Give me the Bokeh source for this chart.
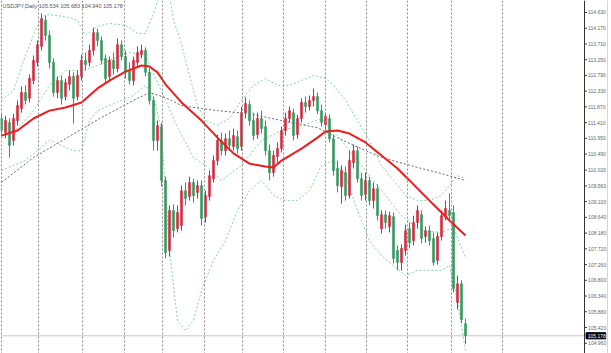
from bokeh.plotting import figure
from bokeh.models import ColumnDataSource, Span, Label, Range1d
from bokeh.core.properties import value
from bokeh.embed import file_html
from bokeh.resources import INLINE

# ---- USDJPY daily candles ----
opens = [111.53,111.12,111.41,110.89,111.47,111.82,112.29,112.12,112.64,113.17,
         113.64,114.40,113.96,113.17,112.29,112.64,112.17,112.53,112.76,112.17,
         112.76,113.23,113.17,113.52,114.04,113.81,113.29,112.76,113.23,112.99,
         113.69,113.34,112.93,112.64,113.17,113.40,113.52,112.88,112.06,110.89,
         111.29,109.72,107.67,108.84,108.31,108.40,109.42,109.25,109.66,109.37,
         109.57,108.66,109.25,109.77,110.30,110.89,110.59,110.94,110.71,111.00,
         110.71,111.70,111.94,111.47,111.06,111.53,111.29,110.59,109.95,110.42,
         110.65,111.18,111.53,111.70,111.06,111.53,112.00,111.88,112.06,112.17,
         111.76,111.35,111.53,110.94,110.07,109.54,109.95,109.28,110.24,110.59,
         109.77,109.31,109.72,109.13,109.48,108.31,108.72,108.37,108.66,107.67,
         107.32,107.67,108.31,107.96,108.49,108.72,108.08,108.25,108.02,107.38,
         108.08,108.66,108.84,108.78,106.15,106.70,105.53]
highs = [111.67,111.61,111.53,111.67,112.06,112.47,112.50,112.82,113.37,113.81,
         114.60,114.54,114.10,113.29,112.76,112.79,112.70,112.93,112.88,112.93,
         113.40,113.46,113.69,114.19,114.16,113.93,113.40,113.34,113.46,113.87,
         113.81,113.52,113.17,113.34,113.64,113.69,113.61,113.00,112.17,111.47,
         111.41,109.83,108.99,109.02,108.99,109.57,109.66,109.83,109.77,109.72,
         109.72,109.42,110.01,110.45,111.06,111.12,111.09,111.18,111.23,111.18,
         111.88,112.15,112.06,111.70,111.70,111.76,111.47,110.77,110.59,110.83,
         111.29,111.70,111.88,111.82,111.64,112.12,112.17,112.20,112.41,112.29,
         111.94,111.70,111.65,111.06,110.30,110.16,110.13,110.59,110.77,110.71,
         109.95,109.95,109.83,109.66,109.60,108.84,108.84,108.81,108.78,107.82,
         107.85,108.43,108.49,108.69,108.99,108.84,108.37,108.40,108.20,108.20,
         108.84,109.13,109.34,108.99,106.94,106.80,105.68]
lows = [111.03,110.95,110.39,110.74,111.32,111.70,111.94,112.00,112.53,113.05,
        113.52,113.81,112.99,112.17,112.12,111.94,112.06,112.35,111.38,112.06,
        112.64,112.93,113.05,113.37,113.64,113.11,112.58,112.64,112.82,112.88,
        113.23,112.70,112.53,112.50,113.05,113.29,112.76,111.94,110.59,110.59,
        109.54,107.44,107.50,108.05,108.20,108.25,108.99,109.13,109.07,109.19,
        108.40,108.49,109.13,109.66,110.16,110.45,110.45,110.59,110.59,110.51,
        110.59,111.53,111.32,110.89,110.94,111.09,110.45,109.72,109.83,110.24,
        110.54,111.03,111.41,110.89,110.94,111.41,111.70,111.76,111.88,111.65,
        111.29,111.18,110.83,109.86,109.37,109.04,109.13,109.19,110.07,109.66,
        109.13,109.13,108.99,108.90,108.55,108.17,108.31,108.20,107.29,107.09,
        107.09,107.52,107.73,107.82,108.31,107.88,107.90,107.82,107.23,107.26,
        107.96,108.55,108.55,106.44,105.95,105.55,104.94]
closes = [111.18,111.47,110.74,111.53,111.91,112.29,112.06,112.70,113.23,113.69,
          114.45,113.96,113.17,112.29,112.64,112.12,112.58,112.76,112.12,112.79,
          113.23,113.11,113.52,114.04,113.81,113.23,112.70,113.23,112.99,113.69,
          113.34,112.88,112.64,113.23,113.46,113.52,112.88,112.06,110.89,111.32,
          109.72,107.61,108.84,108.25,108.78,109.42,109.19,109.66,109.28,109.57,
          108.61,109.28,109.86,110.30,110.89,110.59,110.94,110.74,111.03,110.65,
          111.70,111.97,111.47,111.03,111.53,111.24,110.59,109.95,110.45,110.65,
          111.18,111.53,111.76,111.03,111.53,112.00,111.88,112.06,112.17,111.76,
          111.41,111.59,110.94,110.01,109.57,110.01,109.28,110.30,110.59,109.77,
          109.28,109.72,109.13,109.48,108.69,108.72,108.49,108.69,107.44,107.32,
          107.73,108.25,107.90,108.49,108.84,108.02,108.25,107.96,107.32,108.08,
          108.69,108.90,108.69,106.56,106.70,105.65,105.18]

# ---- indicators (sampled at bar indices) ----
ma_fast_bar = [0,4,8,12,16,20,24,27,31,35,37,39,41,45,50,54,58,62,66,68,70,75,79,81,84,87,91,95,99,102,107,110,112,116]
ma_fast_val = [111.03,111.18,111.53,111.76,111.85,112.00,112.41,112.64,112.90,113.08,113.05,112.88,112.53,112.00,111.47,110.97,110.51,110.21,110.13,110.10,110.30,110.65,110.97,111.15,111.18,111.09,110.83,110.45,110.07,109.72,109.13,108.78,108.55,108.11]

ma_slow_bar = [0,8,16,25,33,37,41,45,50,54,62,70,79,84,87,95,104,110,116]
ma_slow_val = [109.66,110.39,110.94,111.56,112.06,112.29,112.14,111.91,111.82,111.76,111.67,111.47,111.26,110.97,110.80,110.39,110.10,109.92,109.72]

bb_up_bar = [0,3,6,9,11,14,17,19,21,24,27,31,34,36,38,40,42,43,45,47,49,51,54,57,60,63,66,69,72,75,78,81,83,86,89,92,95,98,101,104,107,110,112,114,116]
bb_up_val = [112.06,112.35,113.37,114.25,114.57,114.54,114.48,114.40,113.96,114.22,114.31,114.25,114.02,114.02,114.60,115.27,115.13,114.40,113.72,112.79,111.91,111.47,111.33,111.53,112.06,112.50,112.70,112.50,112.50,112.64,112.79,112.70,112.50,112.06,111.47,110.89,110.16,109.72,109.28,109.13,109.13,109.28,109.57,109.86,109.78]

bb_mid_bar = [0,4,8,12,16,20,24,28,32,36,38,41,44,48,51,55,60,65,70,75,80,85,90,95,100,105,110,113,116]
bb_mid_val = [111.03,111.24,111.76,112.50,112.93,112.93,113.08,113.28,113.46,113.37,112.85,112.06,111.27,110.39,110.16,109.72,110.16,110.89,111.18,111.32,111.53,110.89,110.16,109.42,108.69,108.25,108.20,108.34,107.46]

bb_lo_bar = [0,3,6,9,12,15,18,20,22,24,27,30,33,36,38,40,42,44,46,48,50,53,56,59,62,65,68,71,74,77,80,83,86,89,92,95,98,101,104,107,110,112,114,116]
bb_lo_val = [110.01,110.16,110.30,110.59,110.89,110.74,110.59,110.59,111.47,111.76,111.91,112.06,112.20,112.50,112.20,111.18,107.67,105.62,105.33,105.62,106.50,107.38,107.96,108.84,109.42,109.72,109.28,109.13,109.13,109.42,110.16,110.30,109.86,108.84,107.96,107.52,107.23,106.94,107.09,107.09,107.09,107.23,106.21,104.75]

price_ticks = [114.63,114.17,113.71,113.25,112.79,112.33,111.87,111.41,110.95,110.49,110.02,
               109.56,109.10,108.64,108.18,107.72,107.26,106.80,106.34,105.88,105.42,104.96]
separator_bars = [0, 9.25, 20.25, 30.75, 40.25, 50.75, 60.25, 70.5, 81, 91.25, 101.5, 112.5, 125.25]
last_price = 105.178
header = "USDJPY,Daily  105.534 105.683 104.940 105.178"

# price scale sits to the right of the candle area (MetaTrader style)
Y0, Y1 = 104.66, 114.98
X0, X1 = -0.25, 152.5
AXIS_X = 145.75

p = figure(frame_width=611, frame_height=353, x_range=Range1d(X0, X1),
           y_range=Range1d(Y0, Y1), output_backend="svg", toolbar_location=None,
           min_border=0, y_axis_location=None, x_axis_location=None)
p.outline_line_color = None
p.xgrid.visible = False
p.ygrid.visible = False
p.background_fill_color = "white"
p.border_fill_color = "white"

for b in separator_bars:
    p.add_layout(Span(location=b, dimension="height", line_color="#8a8a8a",
                      line_dash="2 2", line_width=1))

# bid line
p.segment(x0=[X0], y0=[last_price], x1=[AXIS_X + 0.5], y1=[last_price],
          line_color="#c8c8c8", line_width=1)

# bollinger bands
for bars, vals in ((bb_up_bar, bb_up_val), (bb_mid_bar, bb_mid_val), (bb_lo_bar, bb_lo_val)):
    p.line(bars, vals, line_color="#86d3a4", line_width=1, line_dash="2 2")

p.line(ma_slow_bar, ma_slow_val, line_color="#6a6a6a", line_width=1, line_dash="2 2")

idx = list(range(len(opens)))
bull = [i for i in idx if closes[i] >= opens[i]]
bear = [i for i in idx if closes[i] < opens[i]]
red = "#d22a3e"
green = "#33995f"

def src(ids):
    return ColumnDataSource(dict(x=ids, o=[opens[i] for i in ids], c=[closes[i] for i in ids],
                                 h=[highs[i] for i in ids], l=[lows[i] for i in ids]))

sb, sr = src(bull), src(bear)
p.segment("x", "h", "x", "l", source=sb, line_color=red, line_width=1)
p.segment("x", "h", "x", "l", source=sr, line_color=green, line_width=1)
p.vbar("x", 0.55, "o", "c", source=sb, fill_color=red, line_color=red, line_width=0.5)
p.vbar("x", 0.55, "o", "c", source=sr, fill_color=green, line_color=green, line_width=0.5)

p.line(ma_fast_bar, ma_fast_val, line_color="#ee1c1c", line_width=2)

# ---- price axis (right) ----
p.add_layout(Span(location=AXIS_X, dimension="height", line_color="#333333", line_width=1))
p.add_layout(Span(location=151.5, dimension="height", line_color="#d6d6d6", line_width=1))
n = len(price_ticks)
p.segment(x0=[AXIS_X] * n, y0=price_ticks, x1=[AXIS_X + 0.6] * n, y1=price_ticks,
          line_color="#333333", line_width=1)
p.text(x=[AXIS_X + 0.9] * n, y=price_ticks, text=["%.3f" % t for t in price_ticks],
       text_font=value("Liberation Sans"), text_font_size="5px",
       text_color="#666666", text_baseline="middle", text_align="left")

p.quad(left=[AXIS_X + 0.4], right=[AXIS_X + 5.3], bottom=[last_price - 0.09],
       top=[last_price + 0.09], fill_color="black", line_color="black")
p.text(x=[AXIS_X + 0.8], y=[last_price], text=["%.3f" % last_price],
       text_font=value("Liberation Sans"), text_font_size="5px",
       text_color="white", text_baseline="middle", text_align="left")

p.add_layout(Label(x=2, y=348, x_units="screen", y_units="screen", text=header,
                   text_font="Liberation Sans", text_font_size="5.5px", text_color="#555555",
                   text_baseline="middle"))

open("out.html", "w").write(file_html(p, INLINE))
